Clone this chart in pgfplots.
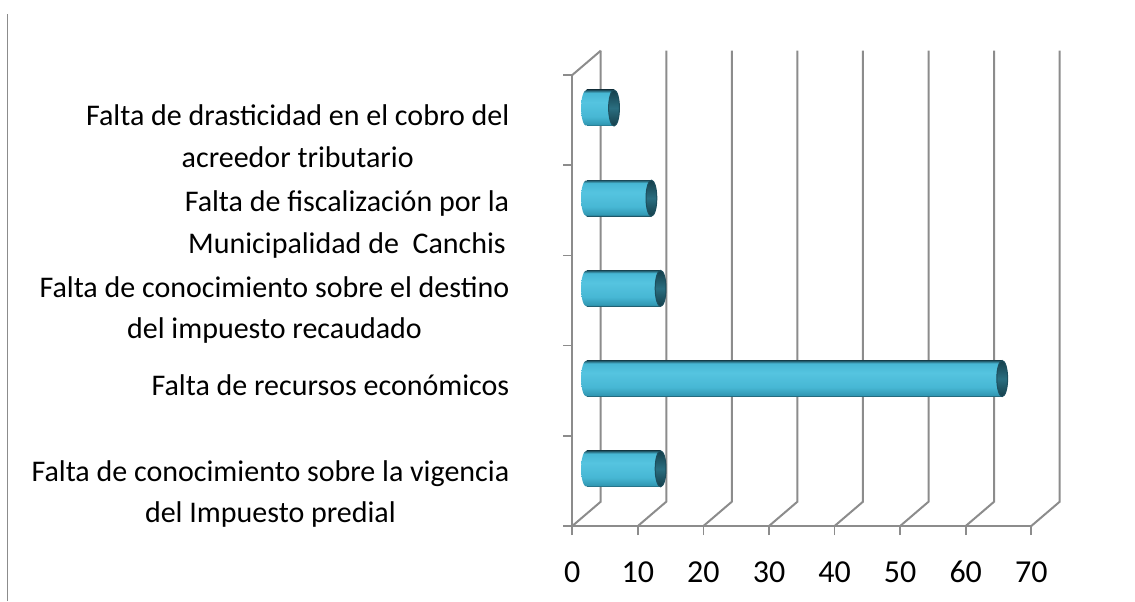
\documentclass[border=0pt]{standalone}
\usepackage{pgfplots}
\pgfplotsset{compat=1.18}
\usepackage{fontspec}
\setmainfont{Carlito}
\definecolor{gridc}{HTML}{8C8C8C}
\definecolor{cdark}{HTML}{1D4F5E}
\definecolor{cbot}{HTML}{3198B3}
\definecolor{cmid}{HTML}{47B7D4}
\definecolor{clight}{HTML}{55C4E0}
\definecolor{ccapd}{HTML}{153F4B}
\definecolor{ccapl}{HTML}{2A6E80}
\pgfdeclareverticalshading{cyl}{100bp}{color(0bp)=(cdark); color(25bp)=(cdark); color(27bp)=(cbot); color(38bp)=(cmid); color(58bp)=(clight); color(71bp)=(cmid); color(75bp)=(cdark); color(100bp)=(cdark)}
\pgfdeclareverticalshading{capsh}{100bp}{color(0bp)=(ccapd); color(25bp)=(ccapd); color(50bp)=(ccapl); color(75bp)=(ccapd); color(100bp)=(ccapd)}
\pgfdeclareplotmark{cylleft}{%
 \pgfpathmoveto{\pgfqpoint{0pt}{\pgfplotmarksize}}%
 \pgfpatharc{90}{270}{\pgfplotmarksize}%
 \pgfpathclose
 \pgfshadepath{cyl}{0}%
 \pgfusepath{discard}}
\pgfdeclareplotmark{cylcap}{%
 \pgfpathcircle{\pgfpointorigin}{\pgfplotmarksize}%
 \pgfshadepath{capsh}{0}%
 \pgfusepath{stroke}}
\pgfplotsset{
 cylbar/.style={xbar, bar width=18pt, draw=none, shading=cyl, xshift=7.1pt, yshift=6.075pt, forget plot},
}
\begin{document}
\begin{tikzpicture}
\path[use as bounding box] (0,0) rectangle (567.5pt,300.5pt);
\draw[gridc, line width=0.8pt] (3.65pt,0) -- (3.65pt,293.5pt);
\begin{axis}[
 at={(286.15pt,37.5pt)}, anchor=south west,
 scale only axis, width=229.5pt, height=225.5pt,
 xmin=0, xmax=70, ymin=0.5, ymax=5.5,
 clip=false,
 axis lines=left, axis line style={-, gridc, line width=1pt},
 xtick={0,10,...,70},
 ytick={0.5,1.5,...,5.5}, yticklabels={,,,,,},
 tick align=outside, major tick length=4.5pt,
 tick style={gridc, line width=0.8pt},
 tick label style={font=\fontsize{15}{20.8}\selectfont, black},
 /pgf/number format/assume math mode=true,
 xticklabel style={anchor=base, yshift=-23.5pt, font=\fontsize{16}{19}\selectfont},
 extra y ticks={0.855,2.063,2.895,3.84,4.82},
 extra y tick labels={{Falta de conocimiento sobre la vigencia\\del Impuesto predial},{Falta de recursos económicos},{Falta de conocimiento sobre el destino\\del impuesto recaudado},{Falta de fiscalización por la\\Municipalidad de\ \ Canchis},{Falta de drasticidad en el cobro del\\acreedor tributario}},
 extra y tick style={major tick length=0pt, yticklabel style={align=center, xshift=-28pt}},
]
\pgfplotsinvokeforeach{0,10,...,70}{
 \draw[gridc, line width=1pt] (axis cs:#1,0.5) -- ([shift={(14.2pt,12.15pt)}]axis cs:#1,0.5) -- ([shift={(14.2pt,12.15pt)}]axis cs:#1,5.5);
}
\draw[gridc, line width=1pt] (axis cs:0,5.5) -- ([shift={(14.2pt,12.15pt)}]axis cs:0,5.5);
\addplot[only marks, mark=cylleft, mark size=9pt, xshift=7.1pt, yshift=6.075pt, mark options={xscale=0.3}] coordinates {(0,1)(0,2)(0,3)(0,4)(0,5)};
\addplot[cylbar] coordinates {(11.3,1)};
\addplot[cylbar] coordinates {(63.4,2)};
\addplot[cylbar] coordinates {(11.3,3)};
\addplot[cylbar] coordinates {(9.9,4)};
\addplot[cylbar] coordinates {(4.2,5)};
\addplot[only marks, mark=cylcap, mark size=9pt, xshift=7.1pt, yshift=6.075pt, mark options={xscale=0.3, draw=cdark, line width=0.5pt}] coordinates {(11.3,1)(63.4,2)(11.3,3)(9.9,4)(4.2,5)};
\end{axis}
\end{tikzpicture}
\end{document}
